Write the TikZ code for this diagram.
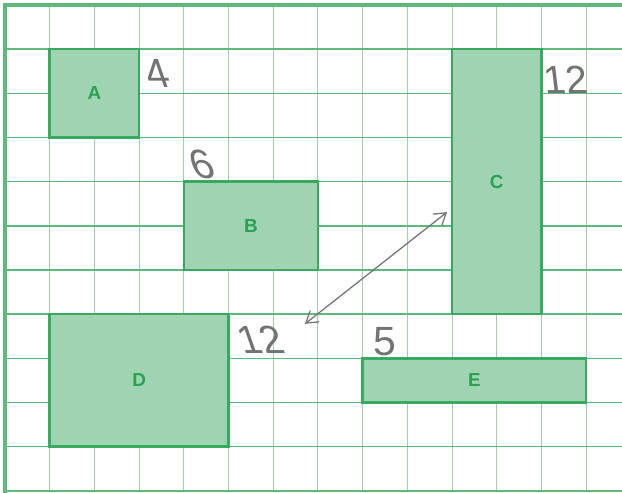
\documentclass[tikz,border=0pt]{standalone}
\usepackage{fontspec}
\setmainfont{Liberation Sans}
\newfontfamily\handslant{Liberation Sans}[FakeSlant=-0.35]
\newfontfamily\handlight{Liberation Sans}[FakeSlant=-0.12]
\usetikzlibrary{arrows.meta,fit}
\definecolor{gridH}{RGB}{95,185,125}
\definecolor{gridV}{RGB}{168,202,178}
\definecolor{boxline}{RGB}{55,170,95}
\definecolor{boxfill}{RGB}{158,212,178}
\definecolor{lettercol}{RGB}{45,160,85}
\definecolor{pencil}{RGB}{115,115,115}
\begin{document}
\begin{tikzpicture}[x=1cm,y=0.988cm,
  area/.style={draw=boxline, fill=boxfill, line width=1.6pt, inner sep=0pt},
  letter/.style={text=lettercol, font=\bfseries\fontsize{12}{12}\selectfont},
  hand/.style={text=pencil, font=\handslant\fontsize{26}{26}\selectfont, inner sep=0pt},
  pencilarrow/.style={draw=pencil, line width=0.8pt,
    {Straight Barb[length=2.5mm,width=3.2mm]}-{Straight Barb[length=2.5mm,width=3.2mm]}}]
\useasboundingbox (-0.112,0.113) rectangle (13.803,-11.046);
% grid
\foreach \i in {1,...,13} \draw[gridV, line width=0.6pt] (\i,0) -- (\i,-11);
\foreach \j in {1,...,10} \draw[gridH, line width=0.9pt] (0,-\j) -- (13.803,-\j);
\draw[gridH, line width=2pt] (0,-11.046) -- (0,0) -- (13.803,0);
\draw[gridH, line width=1.5pt] (0,-11) -- (13.803,-11);
% areas
\node[area, fit={(1,-1)(3,-3)}, label={[letter]center:A}] (A) {};
\node[area, fit={(4,-4)(7,-6)}, label={[letter]center:B}] (B) {};
\node[area, fit={(10,-1)(12,-7)}, label={[letter]center:C}] (C) {};
\node[area, fit={(1,-7)(5,-10)}, label={[letter]center:D}] (D) {};
\node[area, fit={(8,-8)(13,-9)}, label={[letter]center:E}] (E) {};
% handwritten numbers
\node[hand] (nA) at (3.51,-1.54) {4};
\node[hand] (nB) at (4.52,-3.62) {6};
\node[hand, font=\handlight\fontsize{25}{25}\selectfont] (nC) at (12.58,-1.70) {12};
\node[hand, font=\handslant\fontsize{25}{25}\selectfont] (nD) at (5.82,-7.58) {12};
\node[hand, font=\fontsize{26}{26}\selectfont] (nE) at (8.5,-7.63) {5};
% arrow
\coordinate (p) at (6.71,-7.22);
\coordinate (q) at (9.89,-4.69);
\draw[pencilarrow] (p) -- (q);
\end{tikzpicture}
\end{document}
